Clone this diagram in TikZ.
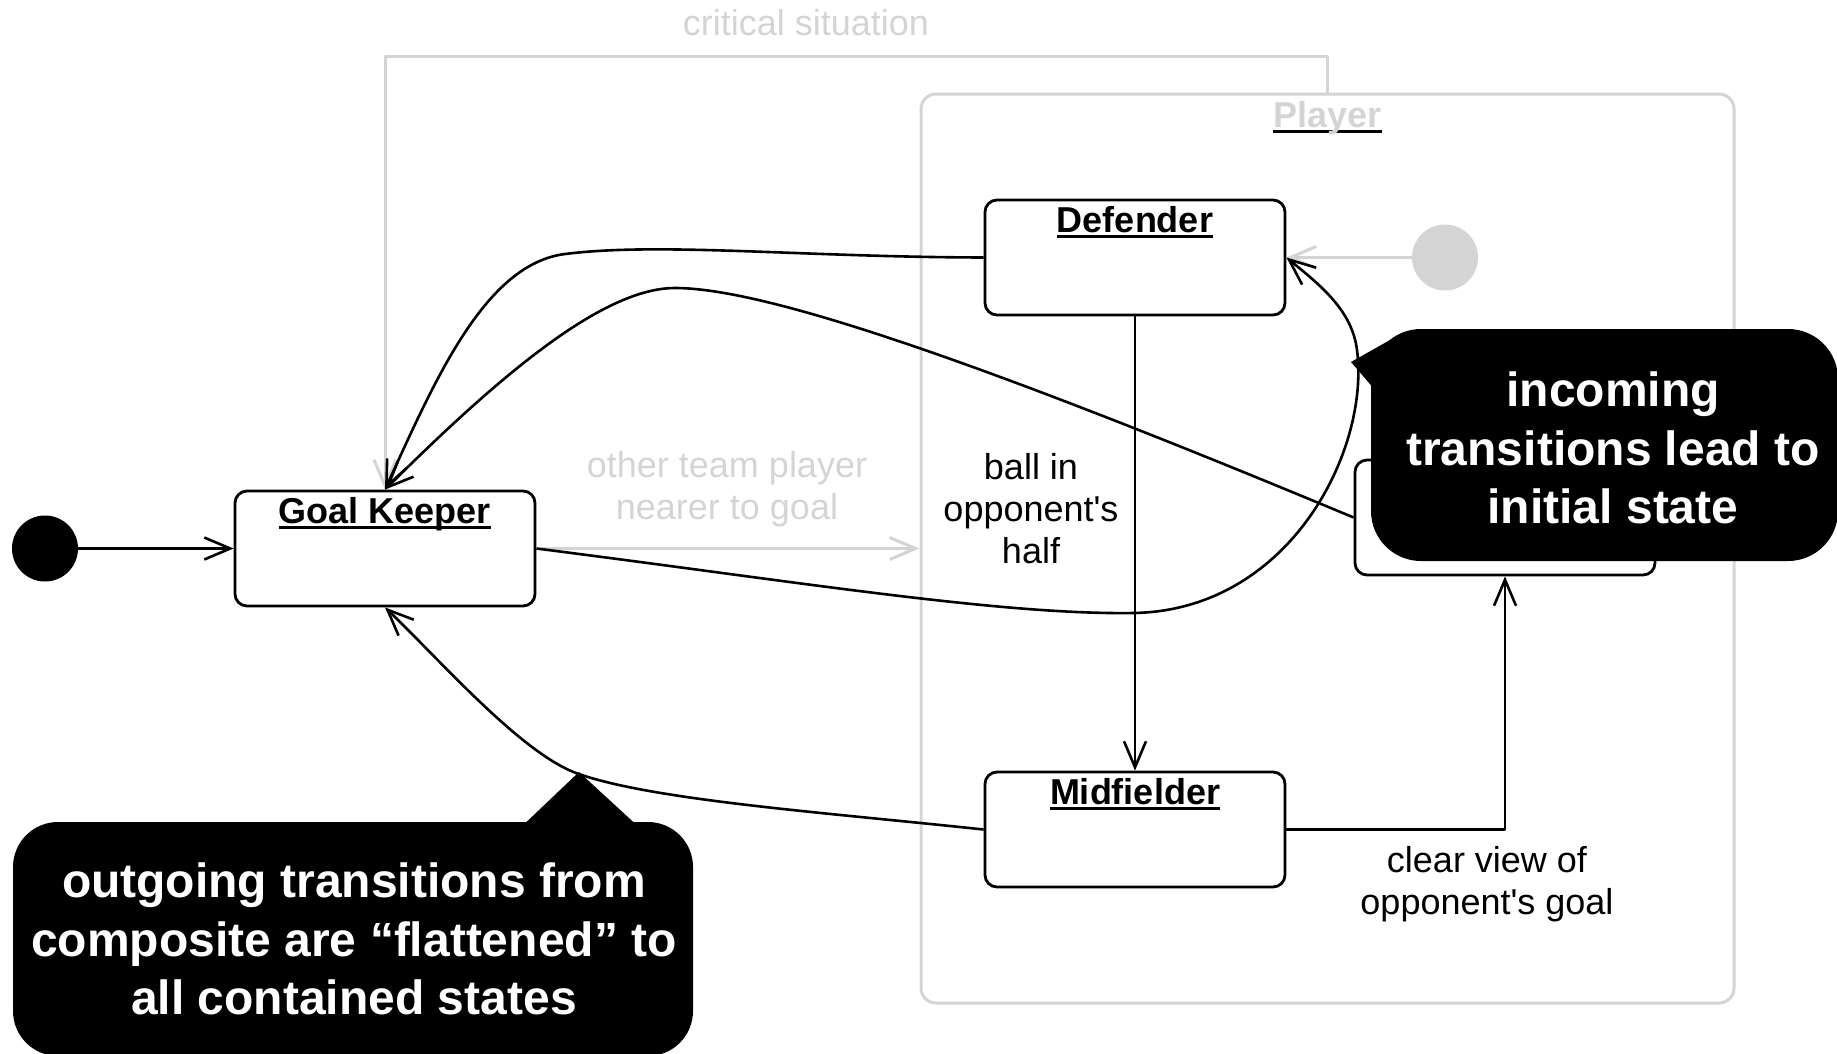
\documentclass[tikz,border=0pt]{standalone}
\usepackage{fontspec}
\setmainfont{Liberation Sans}[Ligatures=TeXOff]
\usetikzlibrary{arrows.meta,calc}
\definecolor{umlgrey}{RGB}{212,212,212}
\newsavebox\ttlbox
\newcommand\ulname[1]{\sbox\ttlbox{#1}\rlap{\color{black}\rule[-5.8pt]{\wd\ttlbox}{2.8pt}}\usebox\ttlbox}

\begin{document}
\begin{tikzpicture}[x=1pt,y=-1pt,
  >={Straight Barb[length=26pt,width=22pt]},
  state/.style={draw, line width=2.8pt, rounded corners=12pt, minimum width=300pt,
    minimum height=115pt, inner sep=0pt, fill=white},
  composite/.style={draw=umlgrey, line width=3pt, rounded corners=15pt,
    minimum width=813pt, minimum height=909pt, inner sep=0pt},
  pseudo/.style={circle, minimum size=66pt, inner sep=0pt},
  title/.style={font=\bfseries\fontsize{36}{42}\selectfont, inner sep=0pt, anchor=base},
  lbl/.style={font=\fontsize{36}{42}\selectfont, align=center, inner sep=0pt},
  trans/.style={line width=2.6pt, line join=round},
  greytrans/.style={draw=umlgrey, line width=3pt, line join=round},
  note/.style={fill=black, rounded corners=#1},
  notetext/.style={text=white, font=\bfseries\fontsize{48}{58.5}\selectfont,
    align=center, inner sep=0pt}
]
\useasboundingbox (0,0) rectangle (1837,1053);

% composite state
\node[composite] (player) at (1327.5,548.5) {};
\node[title, text=umlgrey] (playername) at ($(player.center)+(0,-421.5)$) {\ulname{Player}};

% pseudostates
\node[pseudo, fill=black] (init) at (45,548.5) {};
\node[pseudo, fill=umlgrey] (pinit) at (1445,257.5) {};

% simple states
\node[state] (gk)  at (385,548.5)  {};
\node[state] (def) at (1135,257.5) {};
\node[state] (mid) at (1135,829.5) {};
\node[state] (fwd) at (1505,517.5) {};

\node[title] (gkname)  at ($(gk.center)+(0,-25.2)$)  {\ulname{Goal Keeper}};
\node[title] (defname) at ($(def.center)+(0,-25.2)$) {\ulname{Defender}};
\node[title] (midname) at ($(mid.center)+(0,-25.2)$) {\ulname{Midfielder}};

% transitions on the composite (grey)
\draw[greytrans,->] (pinit) -- (def.east);
\draw[greytrans,->] (gk.east) -- (gk.east -| player.west);
\draw[greytrans,->] (player.north) -- ++(0,-36) -| (gk.north);
\node[lbl, text=umlgrey, anchor=base] (critlbl) at (806,35) {critical situation};
\node[lbl, text=umlgrey] (otherlbl) at (727,489) {other team player\\nearer to goal};

% flattened transitions
\draw[trans,->] (init) -- (gk);
\draw[trans,->] (def) -- (mid);
\draw[trans,->] (mid.east) -| (fwd.south);
\draw[trans,->] (def.west) .. controls (800,257) and (660,242) .. (565,254)
  .. controls (485,264) and (435,380) .. (gk.north);
\draw[trans,->] (fwd.west) .. controls (1000,370) and (770,288) .. (675,288)
  .. controls (605,288) and (505,370) .. (gk.north);
\draw[trans,->] (gk.east) .. controls (800,582) and (1000,615) .. (1134,613)
  .. controls (1290,610) and (1370,450) .. (1357,350)
  .. controls (1352,310) and (1320,285) .. (def.east);
\draw[trans,->] (mid.west) .. controls (820,812) and (650,800) .. (576,773)
  .. controls (520,752) and (440,660) .. (gk.south);

\node[lbl] (balllbl) at (1031,509) {ball in\\opponent's\\half};
\node[lbl] (clearlbl) at (1487,884) {clear view of\\opponent's goal};

% call-outs
\fill[note=50pt] (1371,329) rectangle (1838,561);
\fill (1351,362) -- (1390,340) -- (1375,390) -- cycle;
\node[notetext] (incoming) at (1613,448) {incoming\\transitions lead to\\initial state};

\fill[note=45pt] (13,822) rectangle (693,1056);
\fill (518,830) -- (579,772) -- (642,830) -- cycle;
\node[notetext] (outgoing) at (354,939) {outgoing transitions from\\composite are “flattened” to\\all contained states};
\end{tikzpicture}
\end{document}
